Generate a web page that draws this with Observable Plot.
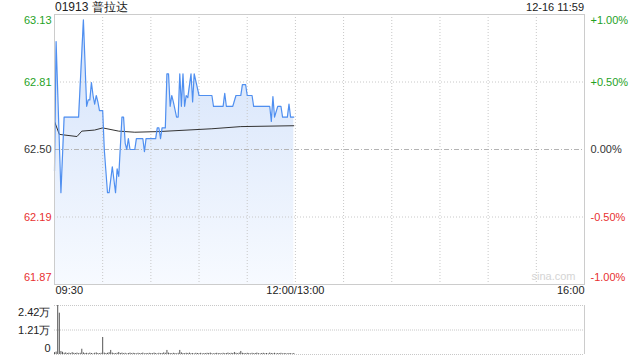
<!DOCTYPE html>
<html><head><meta charset="utf-8">
<script src="https://cdn.jsdelivr.net/npm/d3@7"></script>
<script src="https://cdn.jsdelivr.net/npm/@observablehq/plot@0.6"></script>
<style>
body{margin:0;background:#fff;font-family:"Liberation Sans",Arial,sans-serif;}
#wrap{position:relative;width:640px;height:360px;overflow:hidden;}
.abs{position:absolute;}
#title{left:55px;top:0px;font-size:12px;color:#222;line-height:15px;}
#stamp{right:56px;top:0px;font-size:11px;color:#222;line-height:15px;}
</style></head>
<body><div id="wrap">
<div id="title" class="abs">01913 普拉达</div>
<div id="stamp" class="abs">12-16 11:59</div>
<div id="price" class="abs" style="left:0;top:0"></div>
<div id="vol" class="abs" style="left:0;top:300px"></div>
</div>
<script>
// ---- data ----
const prevClose = 62.5;
const priceTicks = [63.125, 62.8125, 62.5, 62.1875, 61.875];
const priceLabels = ["63.13", "62.81", "62.50", "62.19", "61.87"];
const pctLabels = ["+1.00%", "+0.50%", "0.00%", "-0.50%", "-1.00%"];
const timeTicks = [0, 150, 330];
const timeLabels = ["09:30", "12:00/13:00", "16:00"];
const gridMinutes = [30, 60, 90, 120, 150, 180, 210, 240, 270, 300];

// price line vertices (trading minutes since 09:30, price)
const priceMin = [0, 1, 4, 6, 15, 18, 20, 21, 22, 23, 24, 25, 26, 27, 28, 30, 31, 33, 34, 36, 38, 39, 40, 42, 43, 44, 45, 46, 47, 50, 51, 55, 56, 57, 63, 64, 65, 66, 67, 69, 70, 71, 72, 73, 74, 76, 77, 78, 79, 80, 81, 82, 83, 85, 86, 87, 90, 98, 99, 105, 106, 107, 111, 113, 116, 117, 119, 120, 123, 124, 134, 135, 136, 137, 139, 141, 142, 145, 146, 147, 149];
const priceVal = [62.40, 63.00, 62.30, 62.65, 62.65, 63.10, 62.70, 62.73, 62.73, 62.81, 62.75, 62.71, 62.75, 62.72, 62.68, 62.68, 62.50, 62.30, 62.30, 62.42, 62.30, 62.41, 62.375, 62.65, 62.65, 62.53, 62.50, 62.55, 62.50, 62.50, 62.55, 62.55, 62.49, 62.55, 62.55, 62.60, 62.60, 62.55, 62.60, 62.60, 62.85, 62.85, 62.70, 62.75, 62.72, 62.65, 62.65, 62.85, 62.70, 62.85, 62.70, 62.75, 62.74, 62.85, 62.72, 62.85, 62.75, 62.75, 62.70, 62.70, 62.76, 62.70, 62.70, 62.75, 62.75, 62.80, 62.80, 62.75, 62.75, 62.70, 62.70, 62.63, 62.745, 62.65, 62.70, 62.70, 62.65, 62.65, 62.71, 62.65, 62.65];

// average price line vertices
const avgMin = [0, 3, 14, 17, 25, 30, 40, 50, 65, 98, 116, 149];
const avgVal = [62.63, 62.57, 62.56, 62.585, 62.59, 62.60, 62.585, 62.58, 62.583, 62.596, 62.606, 62.61];

// per-minute volume (shares)
const volume = [900, 1200, 24200, 20400, 1500, 1100, 600, 800, 500, 700, 400, 900, 600, 500, 700, 400, 600, 2600, 800, 500,
  600, 400, 700, 500, 300, 600, 800, 500, 400, 600, 8400, 700, 500, 600, 900, 2000, 700, 500, 400, 600,
  1000, 500, 700, 400, 600, 300, 500, 700, 400, 600, 500, 300, 600, 400, 500, 700, 300, 500, 400, 600,
  500, 400, 700, 500, 300, 600, 400, 500, 800, 600, 2000, 700, 500, 400, 600, 500, 300, 600, 2000, 800,
  500, 400, 600, 500, 700, 400, 500, 300, 600, 500, 400, 600, 300, 500, 400, 600, 500, 700, 400, 300,
  500, 600, 400, 500, 300, 600, 400, 500, 700, 400, 600, 500, 1000, 600, 400, 700, 1500, 600, 500, 400,
  600, 500, 300, 600, 400, 500, 700, 400, 300, 500, 600, 400, 500, 300, 700, 500, 400, 600, 300, 500,
  400, 600, 300, 500, 400, 300, 500, 400, 300, 500];
const volTicks = [24200, 12100, 0];
const volLabels = ["2.42万", "1.21万", "0"];

// ---- build tables ----
const priceData = priceMin.map((m, i) => ({m, p: priceVal[i]}));
const avgData = avgMin.map((m, i) => ({m, p: avgVal[i]}));
const volData = volume.map((v, i) => ({m: i, v}));
const ticks = priceTicks.map((p, i) => ({p, label: priceLabels[i], pct: pctLabels[i], i}));
const tcolor = d => d.p > prevClose ? "#1fa21f" : d.p < prevClose ? "#e83030" : "#333333";
const times = timeTicks.map((t, i) => ({t, label: timeLabels[i], i}));

const font = {fontFamily: "'Liberation Sans', Arial, sans-serif", fontSize: "11px", background: "transparent", overflow: "visible"};
const W = 640, ML = 54, MR = 56;
const xDom = [0, 330];
const yDom = [61.875, 63.125];

const midTicks = ticks.filter(d => d.i > 0 && d.i < 4), topTicks = ticks.filter(d => d.i === 0), botTicks = ticks.filter(d => d.i === 4);

const priceChart = Plot.plot({
  width: W, height: 300, marginTop: 14, marginBottom: 16, marginLeft: ML, marginRight: MR,
  x: {domain: xDom, axis: null}, y: {domain: yDom, axis: null}, color: {type: "identity"},
  style: font,
  marks: [
    Plot.areaY(priceData, {x: "m", y1: yDom[0], y2: "p", fill: "url(#pgrad)", curve: "linear"}),
    Plot.ruleX(gridMinutes, {stroke: "#c8c8c8", strokeDasharray: "1,2"}),
    Plot.ruleY([62.8125, 62.1875], {stroke: "#c8c8c8", strokeDasharray: "1,2"}),
    Plot.ruleY([prevClose], {stroke: "#b4b4b4", strokeDasharray: "5,2,1,2"}),
    Plot.line(avgData, {x: "m", y: "p", stroke: "#333", strokeWidth: 1}),
    Plot.line(priceData, {x: "m", y: "p", stroke: "#4f8ff0", strokeWidth: 1.2}),
    Plot.frame({stroke: "#cccccc"}),
    Plot.text(midTicks, {y: "p", text: "label", fill: tcolor, frameAnchor: "left", textAnchor: "end", dx: -3}),
    Plot.text(topTicks, {y: "p", text: "label", fill: tcolor, frameAnchor: "left", textAnchor: "end", dx: -3, dy: 6}),
    Plot.text(botTicks, {y: "p", text: "label", fill: tcolor, frameAnchor: "left", textAnchor: "end", dx: -3, dy: -7}),
    Plot.text(midTicks, {y: "p", text: "pct", fill: tcolor, frameAnchor: "right", textAnchor: "start", dx: 6}),
    Plot.text(topTicks, {y: "p", text: "pct", fill: tcolor, frameAnchor: "right", textAnchor: "start", dx: 6, dy: 6}),
    Plot.text(botTicks, {y: "p", text: "pct", fill: tcolor, frameAnchor: "right", textAnchor: "start", dx: 6, dy: -7}),
    Plot.text(times.filter(d => d.i === 0), {x: "t", text: "label", frameAnchor: "bottom", textAnchor: "start", dx: 1, dy: 9, fill: "#222"}),
    Plot.text(times.filter(d => d.i === 1), {x: "t", text: "label", frameAnchor: "bottom", textAnchor: "middle", dy: 9, fill: "#222"}),
    Plot.text(times.filter(d => d.i === 2), {x: "t", text: "label", frameAnchor: "bottom", textAnchor: "end", dy: 9, fill: "#222"}),
    Plot.text(["sina.com"], {frameAnchor: "bottom-right", textAnchor: "end", dx: -9, dy: -5, fill: "#d4d4d4", fontSize: 11})
  ]
});
const ns = "http://www.w3.org/2000/svg";
const defs = document.createElementNS(ns, "defs");
const grad = document.createElementNS(ns, "linearGradient");
grad.setAttribute("id", "pgrad"); grad.setAttribute("x1", "0"); grad.setAttribute("y1", "0"); grad.setAttribute("x2", "0"); grad.setAttribute("y2", "1");
[["0", "#d3e2fa"], ["1", "#f7faff"]].forEach(([o, c]) => {
  const s = document.createElementNS(ns, "stop"); s.setAttribute("offset", o); s.setAttribute("stop-color", c); grad.appendChild(s);
});
defs.appendChild(grad);
priceChart.insertBefore(defs, priceChart.firstChild);
document.getElementById("price").appendChild(priceChart);

const vt = volTicks.map((v, i) => ({v, label: volLabels[i], i}));
const volChart = Plot.plot({
  width: W, height: 60, marginTop: 5, marginBottom: 6, marginLeft: ML, marginRight: MR,
  x: {domain: xDom, axis: null}, y: {domain: [0, 24200], axis: null},
  style: font,
  marks: [
    Plot.ruleY(volTicks, {stroke: "#c8c8c8", strokeDasharray: "1,1"}),
    Plot.ruleX([xDom[1]], {stroke: "#cccccc"}),
    Plot.ruleX(volData, {x: "m", y1: 0, y2: "v", stroke: "#555", strokeWidth: 1}),
    Plot.text(vt.filter(d => d.i === 0), {y: "v", text: "label", frameAnchor: "left", textAnchor: "end", dx: -4, dy: 7, fill: "#222"}),
    Plot.text(vt.filter(d => d.i === 1), {y: "v", text: "label", frameAnchor: "left", textAnchor: "end", dx: -4, fill: "#222"}),
    Plot.text(vt.filter(d => d.i === 2), {y: "v", text: "label", frameAnchor: "left", textAnchor: "end", dx: -4, dy: -6, fill: "#222"})
  ]
});
document.getElementById("vol").appendChild(volChart);
</script>
</body></html>
